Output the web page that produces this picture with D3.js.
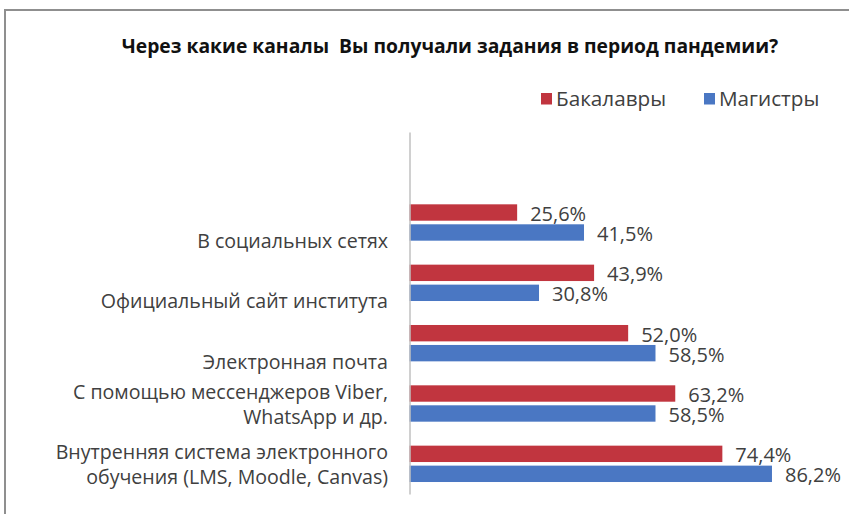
<!DOCTYPE html>
<html>
<head>
<meta charset="utf-8">
<script src="https://cdn.jsdelivr.net/npm/d3@7"></script>
<style>
  body { margin: 0; background: #fff; }
  svg text { font-family: "Open Sans", sans-serif; }
</style>
</head>
<body>
<svg id="chart" width="849" height="514"></svg>
<script>
// data
const categories = [
    "В социальных сетях",
    "Официальный сайт института",
    "Электронная почта",
    "С помощью мессенджеров Viber,\nWhatsApp и др.",
    "Внутренняя система электронного\nобучения (LMS, Moodle, Canvas)"
];
const seriesNames = ["Бакалавры", "Магистры"];
const bachelors = [25.6, 43.9, 52.0, 63.2, 74.4];
const masters = [41.5, 30.8, 58.5, 58.5, 86.2];
const titleText = "Через какие каналы  Вы получали задания в период пандемии?";

const colors = {"Бакалавры": "#c1353f", "Магистры": "#4a77c3"};
const rows = categories.map((c, i) => ({cat: c, "Бакалавры": bachelors[i], "Магистры": masters[i]}));

const svg = d3.select("#chart");

// outer frame (runs off the right and bottom of the picture)
svg.append("rect").attr("x", 5).attr("y", 10).attr("width", 900).attr("height", 600)
    .attr("fill", "none").attr("stroke", "#8f8f8f").attr("stroke-width", 2);

svg.append("text").attr("x", 450).attr("y", 53).attr("text-anchor", "middle")
    .attr("font-weight", "bold").attr("font-size", 19.3).attr("fill", "#111")
    .style("white-space", "pre").text(titleText);

const x = d3.scaleLinear().domain([0, 100]).range([409.5, 830]);
// one empty band sits above the first category, so align the bands to the bottom
const y = d3.scaleBand().domain(categories).range([132, 494]).paddingOuter(0.5).align(1);
const ySub = d3.scaleBand().domain(seriesNames).range([0, y.step()]).paddingInner(0.18).paddingOuter(0.6);

const groups = svg.append("g").selectAll("g").data(rows).join("g")
    .attr("transform", d => `translate(0,${y(d.cat)})`);

groups.selectAll("rect").data(d => seriesNames.map(s => ({s, v: d[s]}))).join("rect")
    .attr("x", x(0))
    .attr("y", d => ySub(d.s))
    .attr("width", d => x(d.v) - x(0))
    .attr("height", ySub.bandwidth())
    .attr("fill", d => colors[d.s]);

groups.selectAll("text.val").data(d => seriesNames.map(s => ({s, v: d[s]}))).join("text")
    .attr("class", "val")
    .attr("x", d => x(d.v) + 13)
    .attr("y", d => ySub(d.s) + ySub.bandwidth() / 2 + 1)
    .attr("dominant-baseline", "central")
    .attr("font-size", 20).attr("fill", "#404040")
    .text(d => d.v.toFixed(1).replace(".", ",") + "%");

// category axis line only
svg.append("g").attr("transform", `translate(${x(0)},0)`)
    .call(d3.axisLeft(y).tickSize(0).tickFormat(""))
    .call(g => g.select(".domain").attr("stroke", "#c0c0c0").attr("stroke-width", 1.5));

// category labels, wrapped on "\n"
svg.append("g").selectAll("text").data(categories).join("text")
    .attr("text-anchor", "end").attr("font-size", 19.6).attr("fill", "#404040")
    .each(function(c) {
        const lines = c.split("\n");
        const mid = y(c) + y.bandwidth() / 2;
        const top = lines.length === 1 ? mid + 18 : mid - 12.5 * (lines.length - 1);
        const t = d3.select(this);
        lines.forEach((ln, i) => {
            t.append("tspan").attr("x", 388).attr("y", top + i * 25)
                .attr("dominant-baseline", "central").text(ln);
        });
    });

// legend
const legend = svg.append("g").selectAll("g").data(seriesNames).join("g")
    .attr("transform", (d, i) => `translate(${[541, 704][i]},93)`);
legend.append("rect").attr("width", 11).attr("height", 11.5).attr("fill", d => colors[d]);
legend.append("text").attr("x", 15).attr("y", 13).attr("font-size", 20.7).attr("fill", "#404040").text(d => d);
</script>
</body>
</html>
